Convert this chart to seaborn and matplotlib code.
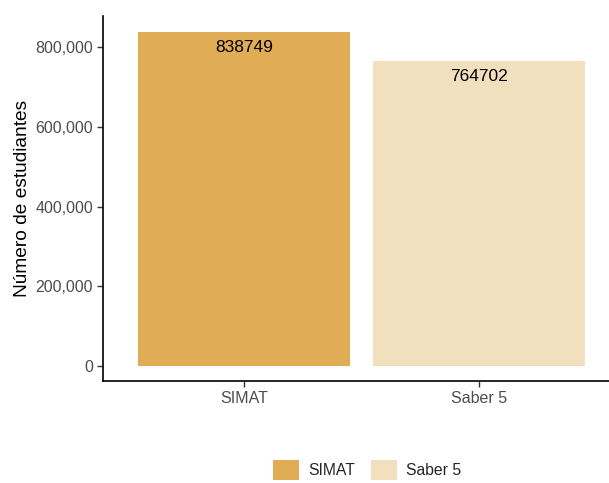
import seaborn as sns
import matplotlib.pyplot as plt
import pandas as pd
from matplotlib.ticker import FuncFormatter

# datos
fuentes = ["SIMAT", "Saber 5"]
estudiantes = [838749, 764702]
colores = ["#E0AC55", "#F2DFBD"]

df = pd.DataFrame({"Fuente": fuentes, "Estudiantes": estudiantes})

sns.set_style("white")
plt.rcParams['font.family'] = ['Liberation Sans', 'DejaVu Sans']

fig = plt.figure(figsize=(6.09, 4.83), dpi=100)
ax = fig.add_axes([0.169, 0.211, 0.831, 0.756])

sns.barplot(data=df, x="Fuente", y="Estudiantes", hue="Fuente",
            palette=colores, width=0.9, saturation=1, legend=True,
            linewidth=0, ax=ax)

for i, v in enumerate(estudiantes):
    ax.annotate(str(v), (i, v), xytext=(0, -11), textcoords="offset points",
                ha="center", va="center", fontsize=12.5, color="black")

ax.set_ylim(-max(estudiantes) * 0.045, max(estudiantes) * 1.048)
ax.set_xlim(-0.6, 1.553)
ax.set_yticks([0, 200000, 400000, 600000, 800000])
ax.yaxis.set_major_formatter(FuncFormatter(lambda x, p: f"{int(x):,}"))
ax.set_xlabel("")
ax.set_ylabel("Número de estudiantes", fontsize=13.8, color="black", labelpad=3)
ax.tick_params(axis="both", labelsize=11.5, labelcolor="#4d4d4d", length=4,
               width=1, color="#333333", direction="out", left=True, bottom=True,
               pad=3)

for s in ["top", "right"]:
    ax.spines[s].set_visible(False)
for s in ["left", "bottom"]:
    ax.spines[s].set_color("black")
    ax.spines[s].set_linewidth(1.2)

handles, labels = ax.get_legend_handles_labels()
ax.get_legend().remove()
fig.legend(handles, labels, loc="center", bbox_to_anchor=(0.603, 0.027),
           ncol=2, frameon=False, fontsize=11.3, handlelength=1.65,
           handleheight=1.65, columnspacing=1.0, handletextpad=0.6)

plt.savefig("out.png", dpi=100)
plt.close()
